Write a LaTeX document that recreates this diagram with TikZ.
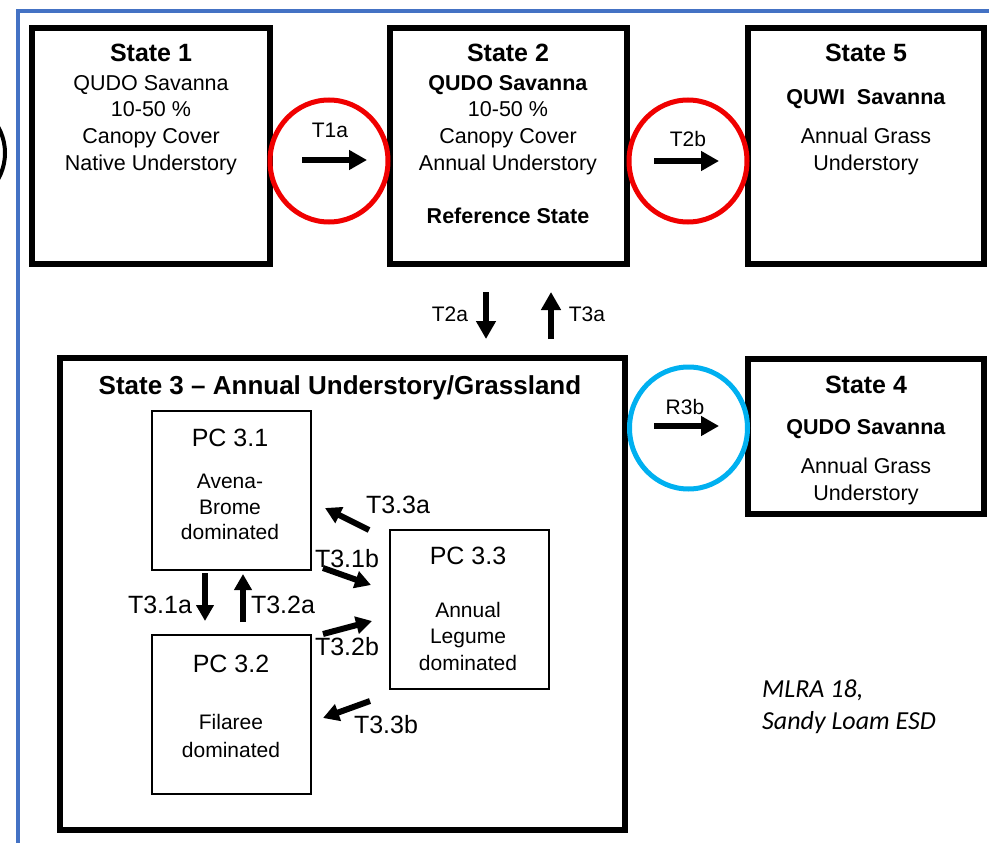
\documentclass[tikz,border=0pt]{standalone}
\usepackage{fontspec}
\setmainfont{Liberation Sans}
\newfontfamily\notefont{Carlito}
\usetikzlibrary{arrows.meta}
\definecolor{frameblue}{HTML}{4472C4}
\definecolor{ringcyan}{HTML}{00B0F0}
\definecolor{ringred}{HTML}{F00000}

\begin{document}
\begin{tikzpicture}[x=1pt,y=-1pt,line join=miter,
    statebox/.style={draw,line width=6pt,inner sep=0pt},
    pcbox/.style={draw,line width=1.4pt,inner sep=0pt,minimum width=159pt,minimum height=159pt},
    statetitle/.style={font=\fontsize{25}{30}\selectfont\bfseries,inner sep=0pt},
    body/.style={font=\fontsize{21.5}{26.7}\selectfont,align=center,anchor=north,inner sep=0pt},
    lbl/.style={font=\fontsize{21}{25}\selectfont,inner sep=0pt},
    pclbl/.style={font=\fontsize{25}{30}\selectfont,inner sep=0pt},
    ring/.style={line width=5pt},
    trans/.style={line width=6.5pt,-{Triangle[length=18pt,width=19pt]}},
    pcarrow/.style={line width=6pt,-{Triangle[length=16pt,width=17pt]}}]
    \useasboundingbox (0,0) rectangle (989,843);
    % outer frame and cut circle at the left edge
    \draw[frameblue,line width=3.5pt] (18,843) -- (18,11) -- (989,11);
    \begin{scope}
        \clip (0,0) rectangle (989,843);
        \draw[line width=4pt] (-48,153) circle [radius=53pt];
    \end{scope}

    % states
    \node[statebox,minimum width=238pt,minimum height=236pt] (s1) at (151,146) {};
    \node[statebox,minimum width=237pt,minimum height=236pt] (s2) at (508.5,146) {};
    \node[statebox,minimum width=236pt,minimum height=236pt] (s5) at (866,146) {};
    \node[statebox,minimum width=565pt,minimum height=472pt] (s3) at (342.5,594) {};
    \node[statebox,minimum width=236pt,minimum height=155pt] (s4) at (866,436.5) {};

    \node[statetitle,anchor=base] (s1t) at (151,62) {State 1};
    \node[body] (s1b) at (151,75) {QUDO Savanna\\10-50 \%\\Canopy Cover\\Native Understory};
    \node[statetitle,anchor=base] (s2t) at (508,62) {State 2};
    \node[body] (s2b) at (508,75) {\textbf{QUDO Savanna}\\10-50 \%\\Canopy Cover\\Annual Understory\\[26pt]\textbf{Reference State}};
    \node[statetitle,anchor=base] (s5t) at (866,62) {State 5};
    \node[body] (s5b) at (866,89) {\textbf{QUWI\ \ Savanna}\\[13pt]Annual Grass\\Understory};
    \node[statetitle,anchor=base] (s4t) at (866,393) {State 4};
    \node[body] (s4b) at (866,419) {\textbf{QUDO Savanna}\\[13pt]Annual Grass\\Understory};
    \node[statetitle,font=\fontsize{26}{30}\selectfont\bfseries,anchor=base] (s3t) at (340,394) {State 3 – Annual Understory/Grassland};

    % plant communities
    \node[pcbox] (pc1) at (231.5,490.5) {};
    \node[pcbox] (pc2) at (231.5,714.5) {};
    \node[pcbox] (pc3) at (469.5,609.5) {};
    \node[pclbl,anchor=base] (pc1t) at (230,446) {PC 3.1};
    \node[body,font=\fontsize{21}{25.5}\selectfont] (pc1b) at (230,474) {Avena-\\Brome\\dominated};
    \node[pclbl,anchor=base] (pc2t) at (231,672) {PC 3.2};
    \node[body,font=\fontsize{21}{28}\selectfont] (pc2b) at (231,714) {Filaree\\dominated};
    \node[pclbl,anchor=base] (pc3t) at (468,564) {PC 3.3};
    \node[body,font=\fontsize{21}{26.5}\selectfont] (pc3b) at (468,602) {Annual\\Legume\\dominated};

    % rings
    \draw[ring,ringred] (329,161) ellipse [x radius=59pt,y radius=61pt];
    \draw[ring,ringred] (688,161) ellipse [x radius=59pt,y radius=61pt];
    \draw[ring,ringcyan] (688.5,428) ellipse [x radius=59pt,y radius=61pt];

    % transitions
    \node[lbl] (t1a) at (330,130) {T1a};
    \node[lbl] (t2b) at (688,139) {T2b};
    \node[lbl] (r3b) at (685,407) {R3b};
    \node[lbl] (t2a) at (450,314) {T2a};
    \node[lbl] (t3a) at (587,314) {T3a};
    \coordinate (t1a-a) at (302,160); \coordinate (t1a-b) at (367,160);
    \coordinate (t2b-a) at (654,161); \coordinate (t2b-b) at (719,161);
    \coordinate (r3b-a) at (654,426); \coordinate (r3b-b) at (719,426);
    \coordinate (t2a-a) at (486,292); \coordinate (t2a-b) at (486,339);
    \coordinate (t3a-a) at (551,339); \coordinate (t3a-b) at (551,292);
    \draw[trans] (t1a-a) -- (t1a-b);
    \draw[trans] (t2b-a) -- (t2b-b);
    \draw[trans] (r3b-a) -- (r3b-b);
    \draw[trans] (t2a-a) -- (t2a-b);
    \draw[trans] (t3a-a) -- (t3a-b);

    % transitions inside state 3
    \node[pclbl] (t31a) at (160,605) {T3.1a};
    \node[pclbl] (t32a) at (283,605) {T3.2a};
    \node[pclbl] (t33a) at (398,505) {T3.3a};
    \node[pclbl] (t31b) at (347,559) {T3.1b};
    \node[pclbl] (t32b) at (347,647) {T3.2b};
    \node[pclbl] (t33b) at (386,725) {T3.3b};
    \coordinate (t31a-a) at (205,573); \coordinate (t31a-b) at (205,621);
    \coordinate (t32a-a) at (243,622); \coordinate (t32a-b) at (243,574);
    \coordinate (t33a-a) at (369,530); \coordinate (t33a-b) at (325,508);
    \coordinate (t31b-a) at (323,568); \coordinate (t31b-b) at (371,585);
    \coordinate (t32b-a) at (323,634); \coordinate (t32b-b) at (372,621);
    \coordinate (t33b-a) at (370,701); \coordinate (t33b-b) at (323,718);
    \draw[pcarrow] (t31a-a) -- (t31a-b);
    \draw[pcarrow] (t32a-a) -- (t32a-b);
    \draw[pcarrow] (t33a-a) -- (t33a-b);
    \draw[pcarrow] (t31b-a) -- (t31b-b);
    \draw[pcarrow] (t32b-a) -- (t32b-b);
    \draw[pcarrow] (t33b-a) -- (t33b-b);

    % note
    \node[font=\notefont\itshape\fontsize{26}{32}\selectfont,align=left,anchor=north west,inner sep=0pt] (mlra) at (762,680) {MLRA 18,\\Sandy Loam ESD};
\end{tikzpicture}
\end{document}
